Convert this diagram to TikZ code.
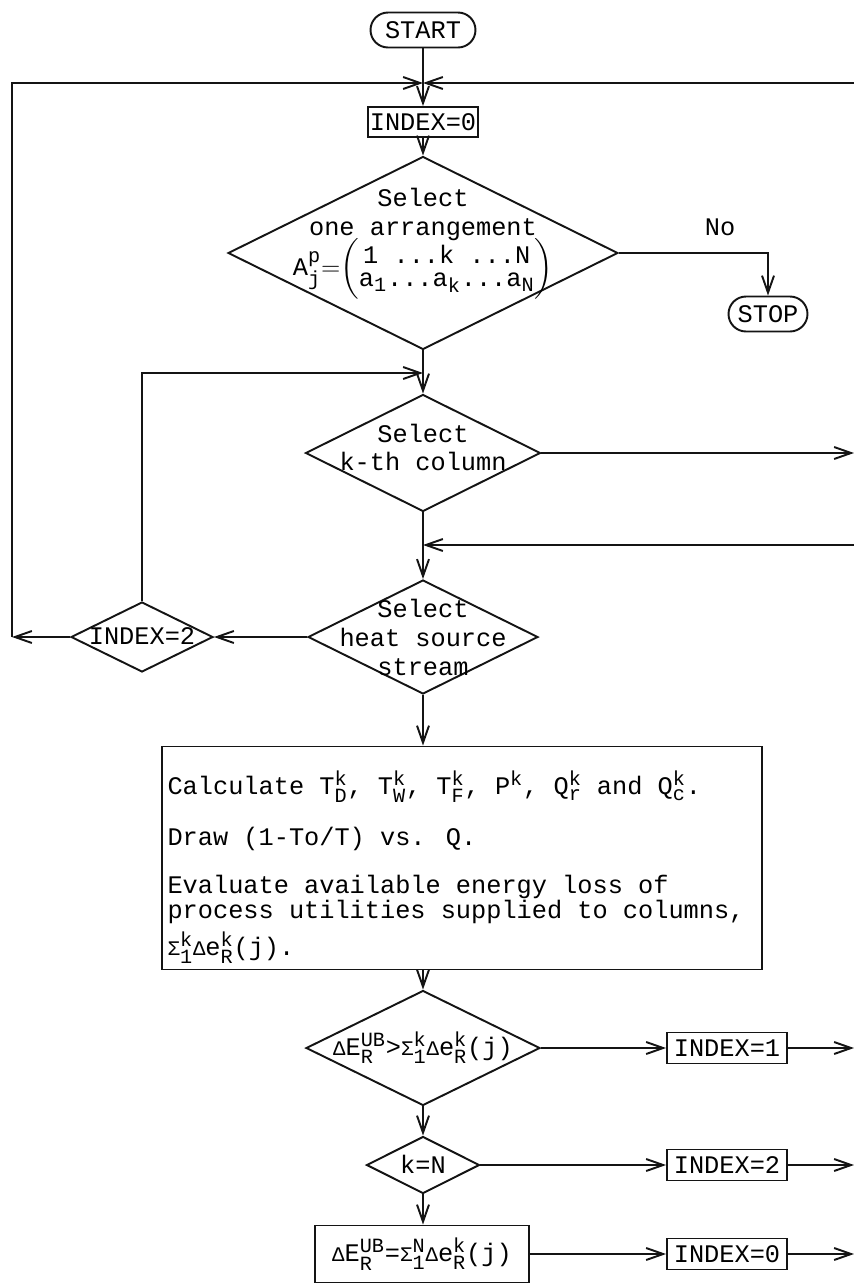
\documentclass[tikz,border=0pt]{standalone}
\usepackage{amsmath}
\usepackage{fontspec}
\setmainfont{Liberation Mono}
\setmonofont{Liberation Mono}
\usetikzlibrary{arrows.meta, shapes.geometric}
\definecolor{Ink}{HTML}{141414}
\DeclareMathSizes{14.4}{14.4}{11.5}{9.2}
\newcommand\ttsize{\fontsize{14.4}{16.4}\selectfont}
\newcommand\fullspaces{\spaceskip=0pt\xspaceskip=0pt\relax}
\newcommand\tsub[3]{\ensuremath{\mathtt{#1}^{\mathtt{#2}}_{\mathtt{#3}}}}
\newcommand\smgr[1]{\mbox{\fontsize{11.8}{11.8}\selectfont #1}}
\newcommand\decotext[2][0pt]{\smash{\makebox[0pt]{\raisebox{-#1}{\begin{tabular}{@{}c@{}}#2\end{tabular}}}}}
\tikzset{
  term/.style={draw=Ink, line width=1.1pt, rounded corners=0.35cm, minimum height=0.7cm, inner sep=1pt, font=\ttsize},
  flagbox/.style={draw=Ink, line width=1.1pt, minimum height=0.62cm, inner sep=1pt, font=\ttsize},
  decision/.style={diamond, draw=Ink, line width=1.1pt, inner sep=0pt, font=\ttsize},
  procbox/.style={draw=Ink, line width=1.1pt, inner sep=0.12cm, align=left, font=\fontsize{14.4}{13.1}\selectfont},
  arrow/.style={-{Straight Barb[length=3.4mm, width=2.4mm]}, line width=1.1pt, draw=Ink},
  wire/.style={line width=1.1pt, draw=Ink}
}

\begin{document}
\begin{tikzpicture}[x=0.02cm, y=-0.02cm]
\useasboundingbox (0,0) rectangle (854,1285);

\node[term, minimum width=2.1cm] (start) at (423,30) {START};
\coordinate (merge) at (423,83);
\coordinate (rgt) at (854,83);
\coordinate (lft) at (12,637);
\node[flagbox, minimum width=2.16cm, minimum height=0.6cm] (idx0) at (423,122) {INDEX=0};
\node[decision, minimum width=7.8cm, minimum height=3.86cm] (sel1) at (423,253)
  {\decotext[-2pt]{Select\\one arrangement\\[-3pt]
   $\mathtt{A}^{\mathtt{p}}_{\mathtt{j}}{=}\!\left(\begin{matrix}\text{1 ...k ...N}\\[-3pt]
   \mathtt{a}_{\mathtt{1}}\text{...}\mathtt{a}_{\mathtt{k}}\text{...}\mathtt{a}_{\mathtt{N}}\end{matrix}\right)$}};
\node[font=\ttsize] (no) at (720,227) {No};
\node[term, minimum width=1.58cm] (stop) at (768,314) {STOP};
\coordinate (join2) at (423,373);
\node[decision, minimum width=4.7cm, minimum height=2.34cm] (sel2) at (423,453) {\decotext[0.08cm]{Select\\k-th column}};
\coordinate (join3) at (423,545);
\node[decision, minimum width=4.6cm, minimum height=2.28cm] (heat) at (423,637) {\decotext[0.2cm]{Select\\heat source\\stream}};
\node[decision, minimum width=2.84cm, minimum height=1.4cm] (idx2d) at (142,637) {\decotext[0.16cm]{INDEX=2}};

\node[procbox, text width=11.78cm, minimum height=4.46cm] (calc) at (462,858) {\fullspaces
\rule{0pt}{0.84cm}Calculate \tsub{T}{k}{D}, \tsub{T}{k}{W}, \tsub{T}{k}{F}, \tsub{P}{k}{}, \tsub{Q}{k}{r} and \tsub{Q}{k}{c}.\\[0.45cm]
Draw (1-To/T) vs. Q.\\[0.45cm]
Evaluate available energy loss of\\
process utilities supplied to columns,\\[0.12cm]
\tsub{\smgr{Σ}}{k}{1}\tsub{\smgr{Δ}e}{k}{R}(j).};

\node[decision, minimum width=4.68cm, minimum height=2.3cm] (sel3) at (423,1048)
  {\decotext[0.12cm]{\tsub{\smgr{Δ}E}{UB}{R}>\tsub{\smgr{Σ}}{k}{1}\tsub{\smgr{Δ}e}{k}{R}(j)}};
\node[flagbox, minimum width=2.4cm] (idx1) at (727,1048) {INDEX=1};
\node[decision, minimum width=2.26cm, minimum height=1.14cm] (kN) at (423,1165) {\decotext[0.18cm]{k=N}};
\node[flagbox, minimum width=2.4cm] (idx2) at (727,1165) {INDEX=2};
\node[procbox, align=center, minimum width=4.28cm, minimum height=1.14cm] (last) at (422,1254)
  {\tsub{\smgr{Δ}E}{UB}{R}=\tsub{\smgr{Σ}}{N}{1}\tsub{\smgr{Δ}e}{k}{R}(j)};
\node[flagbox, minimum width=2.4cm] (idx0b) at (727,1254) {INDEX=0};

% main column
\draw[arrow] (start) -- (idx0);
\draw[arrow] (rgt) -- (merge);
\draw[arrow] (lft) |- (merge);
\draw[arrow] (idx0) -- (sel1);
\draw[arrow] (sel1.east) -| (stop.north);
\draw[wire] (sel1.south) -- (join2);
\draw[arrow] (idx2d.north) |- (join2);
\draw[arrow] (join2) -- (sel2.north);
\draw[arrow] (sel2.east) -- (sel2.east -| rgt);
\draw[wire] (sel2.south) -- (join3);
\draw[arrow] (join3 -| rgt) -- (join3);
\draw[arrow] (join3) -- (heat.north);
\draw[arrow] (heat.west) -- (idx2d.east);
\draw[arrow] (idx2d.west) -- (lft);
\draw[arrow] (heat.south) -- (heat.south |- calc.north);
\draw[arrow] (sel3.north |- calc.south) -- (sel3.north);

% tests
\draw[arrow] (sel3.east) -- (idx1.west);
\draw[arrow] (sel3.south) -- (kN.north);
\draw[arrow] (kN.east) -- (idx2.west);
\draw[arrow] (kN.south) -- (kN.south |- last.north);
\draw[arrow] (last.east) -- (idx0b.west);
\foreach \b in {idx1, idx2, idx0b}
  \draw[arrow] (\b.east) -- (\b.east -| rgt);
\end{tikzpicture}
\end{document}
